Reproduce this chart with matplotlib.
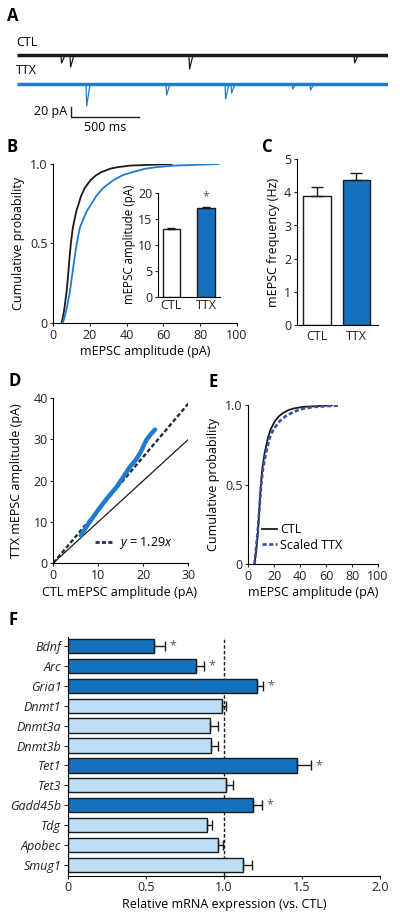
import matplotlib
matplotlib.use('Agg')
import matplotlib.pyplot as plt
from matplotlib.lines import Line2D

plt.rcParams['font.family'] = ['Open Sans', 'DejaVu Sans']
plt.rcParams['font.size'] = 9
plt.rcParams['mathtext.fontset'] = 'custom'
plt.rcParams['mathtext.rm'] = 'Open Sans'
plt.rcParams['mathtext.it'] = 'Open Sans:italic'
plt.rcParams['axes.linewidth'] = 0.8
plt.rcParams['xtick.major.width'] = 0.8
plt.rcParams['ytick.major.width'] = 0.8
plt.rcParams['xtick.major.size'] = 2.5
plt.rcParams['ytick.major.size'] = 2.5
plt.rcParams['xtick.major.pad'] = 1.5
plt.rcParams['ytick.major.pad'] = 1.5

FS = 9

# ---- data ----
# A: example traces (ms, pA)
trace_len = 2732
ctl_event_t = [327, 393, 1268, 2482]
ctl_event_amp = [16, 24, 28, 16]
ttx_event_t = [511, 1099, 1533, 1577, 2026, 2158]
ttx_event_amp = [44, 22, 30, 18, 10, 12]

# B / E: cumulative distributions
cum_prob = [0, 0.05, 0.1, 0.2, 0.3, 0.4, 0.5, 0.6, 0.7, 0.8, 0.85, 0.9, 0.93, 0.95, 0.97, 0.98, 0.99, 1.0]
ctl_amp = [4.7, 5.6, 6.3, 7.4, 8.2, 8.9, 9.7, 10.8, 12.6, 15.3, 17.3, 20.5, 23.5, 26.5, 31, 35, 42, 64.5]
ttx_amp = [5.3, 6.6, 7.6, 9.2, 10.4, 11.6, 12.9, 14.6, 18.2, 23.6, 27.3, 33, 38, 43.5, 50, 56, 66, 90]
scaled_ttx_amp = [4.8, 5.4, 6.0, 7.2, 8.1, 9.0, 10.0, 11.3, 13.6, 16.7, 19.5, 24.2, 28.5, 33, 38.5, 43, 51, 71]

# B inset / C: group means
groups = ['CTL', 'TTX']
amp_mean = [13.0, 17.0]
amp_sem = [0.2, 0.25]
freq_mean = [3.89, 4.37]
freq_sem = [0.28, 0.21]

# D: rank-ordered amplitudes
qq_ctl = [6.1, 7.5, 9.0, 10.4, 12.0, 14.1, 15.5, 17.0, 18.3, 19.3, 20.0, 20.7, 21.6, 22.6]
qq_ttx = [6.7, 9.0, 11.4, 13.5, 15.8, 18.5, 20.8, 23.3, 25.0, 26.7, 28.3, 29.9, 31.2, 32.4]
scale_factor = 1.29

# F: qPCR
genes = ['Bdnf', 'Arc', 'Gria1', 'Dnmt1', 'Dnmt3a', 'Dnmt3b', 'Tet1', 'Tet3',
         'Gadd45b', 'Tdg', 'Apobec', 'Smug1']
expr = [0.55, 0.82, 1.21, 0.985, 0.912, 0.917, 1.47, 1.009, 1.186, 0.887, 0.962, 1.118]
expr_sem = [0.07, 0.05, 0.04, 0.03, 0.05, 0.045, 0.09, 0.045, 0.055, 0.035, 0.03, 0.06]
significant = [True, True, True, False, False, False, True, False, True, False, False, False]

BLACK = '#1a1a1a'
BLUE = '#1f7ccc'
DARKBLUE = '#1570be'
LIGHTBLUE = '#bcdff5'
NAVY = '#3b4ea3'

W, H = 400, 921


def box(l, t, r, b):
    return [l / W, 1 - b / H, (r - l) / W, (b - t) / H]


def clean(ax):
    ax.spines['top'].set_visible(False)
    ax.spines['right'].set_visible(False)
    ax.tick_params(direction='out', labelsize=FS, colors='#222222')


def panel_label(x, y, s):
    fig.text(x / W, 1 - y / H, s, fontsize=12, fontweight='bold', va='center', ha='left')


fig = plt.figure(figsize=(4, 9.21), dpi=100)

# ---- A ----
axA = fig.add_axes(box(16.5, 45, 388, 135))
axA.set_xlim(0, trace_len)
axA.set_ylim(-140, 40)
axA.axis('off')
ctl_base, ttx_base = 20, -38
axA.plot([0, trace_len], [ctl_base, ctl_base], color=BLACK, lw=2.5, solid_capstyle='butt')
axA.plot([0, trace_len], [ttx_base, ttx_base], color=BLUE, lw=2.5, solid_capstyle='butt')
for t, a in zip(ctl_event_t, ctl_event_amp):
    axA.plot([t, t + 5, t + 30], [ctl_base, ctl_base - a, ctl_base], color=BLACK, lw=0.9)
for t, a in zip(ttx_event_t, ttx_event_amp):
    axA.plot([t, t + 5, t + 30], [ttx_base, ttx_base - a, ttx_base], color=BLUE, lw=0.9)
axA.plot([401, 401, 901], [-84, -104, -104], color=BLACK, lw=1)
axA.text(375, -92, '20 pA', ha='right', va='center', fontsize=FS)
axA.text(651, -111, '500 ms', ha='center', va='top', fontsize=FS)
fig.text(16 / W, 1 - 42 / H, 'CTL', va='center', fontsize=FS)
fig.text(16 / W, 1 - 71 / H, 'TTX', va='center', fontsize=FS)
panel_label(7, 16, 'A')

# ---- B ----
axB = fig.add_axes(box(53, 164, 237, 323))
axB.plot(ctl_amp, cum_prob, color=BLACK, lw=1.3)
axB.plot(ttx_amp, cum_prob, color=BLUE, lw=1.3)
axB.set_xlim(0, 100)
axB.set_ylim(0, 1.0)
axB.set_xticks([0, 20, 40, 60, 80, 100])
axB.set_yticks([0, 0.5, 1.0])
axB.set_yticklabels(['0', '0.5', '1.0'])
clean(axB)
axB.set_xlabel('mEPSC amplitude (pA)', fontsize=FS)
axB.set_ylabel('Cumulative probability', fontsize=FS)
axB.xaxis.set_label_coords(0.5, (323 - 352) / 159)
axB.xaxis.label.set_va('center')
axB.yaxis.set_label_coords((19 - 53) / 184, 0.5)
axB.yaxis.label.set_va('center')
panel_label(6, 147, 'B')

axI = fig.add_axes(box(158, 192.7, 220, 296.7))
axI.bar([0, 1], amp_mean, width=0.5, color=['white', DARKBLUE], edgecolor=BLACK, lw=1)
axI.errorbar([0, 1], amp_mean, yerr=[[0, 0], amp_sem], fmt='none', ecolor=BLACK, capsize=3, lw=1, capthick=1)
axI.text(1, amp_mean[1] + amp_sem[1] + 0.7, '*', ha='center', va='bottom', fontsize=FS, color='#555555')
axI.set_xlim(-0.38, 1.4)
axI.set_ylim(0, 20)
axI.set_xticks([0, 1])
axI.set_xticklabels(groups)
axI.set_yticks([0, 5, 10, 15, 20])
clean(axI)
axI.tick_params(axis='x', length=0, pad=2)
axI.set_ylabel('mEPSC amplitude (pA)', fontsize=8.3)
axI.yaxis.set_label_coords((130 - 158) / 62, 0.5)
axI.yaxis.label.set_va('center')

# ---- C ----
axC = fig.add_axes(box(296.7, 159.3, 378, 324.8))
axC.bar([0, 1], freq_mean, width=0.7, color=['white', DARKBLUE], edgecolor=BLACK, lw=1)
axC.errorbar([0, 1], freq_mean, yerr=[[0, 0], freq_sem], fmt='none', ecolor=BLACK, capsize=4.5, lw=1, capthick=1)
axC.set_xlim(-0.517, 1.55)
axC.set_ylim(0, 5)
axC.set_xticks([0, 1])
axC.set_xticklabels(groups)
axC.set_yticks([0, 1, 2, 3, 4, 5])
clean(axC)
axC.tick_params(axis='x', length=0, pad=4)
axC.set_ylabel('mEPSC frequency (Hz)', fontsize=FS)
axC.yaxis.set_label_coords((273 - 296.7) / 81.3, 0.5)
axC.yaxis.label.set_va('center')
panel_label(262, 147, 'C')

# ---- D ----
axD = fig.add_axes(box(53.3, 398.3, 188.3, 563))
axD.plot([0, 30], [0, 30], color=BLACK, lw=0.9)
axD.plot([0, 30], [0, 30 * scale_factor], color='#222a40', lw=1.7, ls=(0, (1.8, 1.0)))
axD.plot(qq_ctl, qq_ttx, color=BLUE, lw=3.2, solid_capstyle='round')
axD.set_xlim(0, 30)
axD.set_ylim(0, 40)
axD.set_xticks([0, 10, 20, 30])
axD.set_yticks([0, 10, 20, 30, 40])
clean(axD)
axD.set_xlabel('CTL mEPSC amplitude (pA)', fontsize=FS)
axD.set_ylabel('TTX mEPSC amplitude (pA)', fontsize=FS)
axD.xaxis.set_label_coords((120 - 53.3) / 135, (563 - 592) / 164.7)
axD.xaxis.label.set_va('center')
axD.yaxis.set_label_coords((17 - 53.3) / 135, 0.5)
axD.yaxis.label.set_va('center')
hD = Line2D([], [], color='#222a60', lw=2, ls=(0, (1.5, 0.8)))
axD.legend([hD], [r'$y$ = 1.29$x$'], loc='center left', bbox_to_anchor=((95 - 53.3) / 135, (563 - 543) / 164.7),
           frameon=False, handlelength=1.5, handletextpad=0.4, borderpad=0, borderaxespad=0, fontsize=FS)
panel_label(8, 381, 'D')

# ---- E ----
axE = fig.add_axes(box(248.3, 405.3, 378, 564))
axE.plot(ctl_amp, cum_prob, color=BLACK, lw=1.3, label='CTL')
axE.plot(scaled_ttx_amp, cum_prob, color=NAVY, lw=1.9, ls=(0, (1.6, 0.9)), label='Scaled TTX')
axE.set_xlim(0, 100)
axE.set_ylim(0, 1.0)
axE.set_xticks([0, 20, 40, 60, 80, 100])
axE.set_yticks([0, 0.5, 1.0])
axE.set_yticklabels(['0', '0.5', '1.0'])
clean(axE)
axE.set_xlabel('mEPSC amplitude (pA)', fontsize=FS)
axE.set_ylabel('Cumulative probability', fontsize=FS)
axE.xaxis.set_label_coords((313 - 248.3) / 129.7, (564 - 592) / 158.7)
axE.xaxis.label.set_va('center')
axE.yaxis.set_label_coords((213 - 248.3) / 129.7, 0.5)
axE.yaxis.label.set_va('center')
axE.legend(loc='upper left', bbox_to_anchor=((262 - 248.3) / 129.7, (564 - 523) / 158.7), frameon=False,
           handlelength=1.2, handletextpad=0.25, labelspacing=0.2, borderpad=0, borderaxespad=0, fontsize=FS)
panel_label(208, 382, 'E')

# ---- F ----
axF = fig.add_axes(box(68.3, 637, 380, 875.7))
ypos = list(range(len(genes)))
colors = [DARKBLUE if s else LIGHTBLUE for s in significant]
axF.barh(ypos, expr, height=0.72, color=colors, edgecolor=BLACK, lw=1)
axF.errorbar(expr, ypos, xerr=[[0] * len(genes), expr_sem], fmt='none', ecolor=BLACK, capsize=3.5, lw=1, capthick=1)
for y, v, e, s in zip(ypos, expr, expr_sem, significant):
    if s:
        axF.text(v + e + 0.05, y, '*', ha='center', va='center', fontsize=FS, color='#555555')
axF.axvline(1.0, color=BLACK, lw=1, ls=(0, (2.5, 1.5)), zorder=0)
axF.set_xlim(0, 2.0)
axF.set_ylim(11.54, -0.45)
axF.set_yticks(ypos)
axF.set_yticklabels(genes, fontstyle='italic')
axF.set_xticks([0, 0.5, 1.0, 1.5, 2.0])
axF.set_xticklabels(['0', '0.5', '1.0', '1.5', '2.0'])
clean(axF)
axF.tick_params(axis='y', length=3, pad=2)
axF.set_xlabel('Relative mRNA expression (vs. CTL)', fontsize=FS)
axF.xaxis.set_label_coords(0.5, (875.7 - 904) / 238.7)
axF.xaxis.label.set_va('center')
panel_label(8, 620, 'F')

fig.savefig('out.png', dpi=100)
